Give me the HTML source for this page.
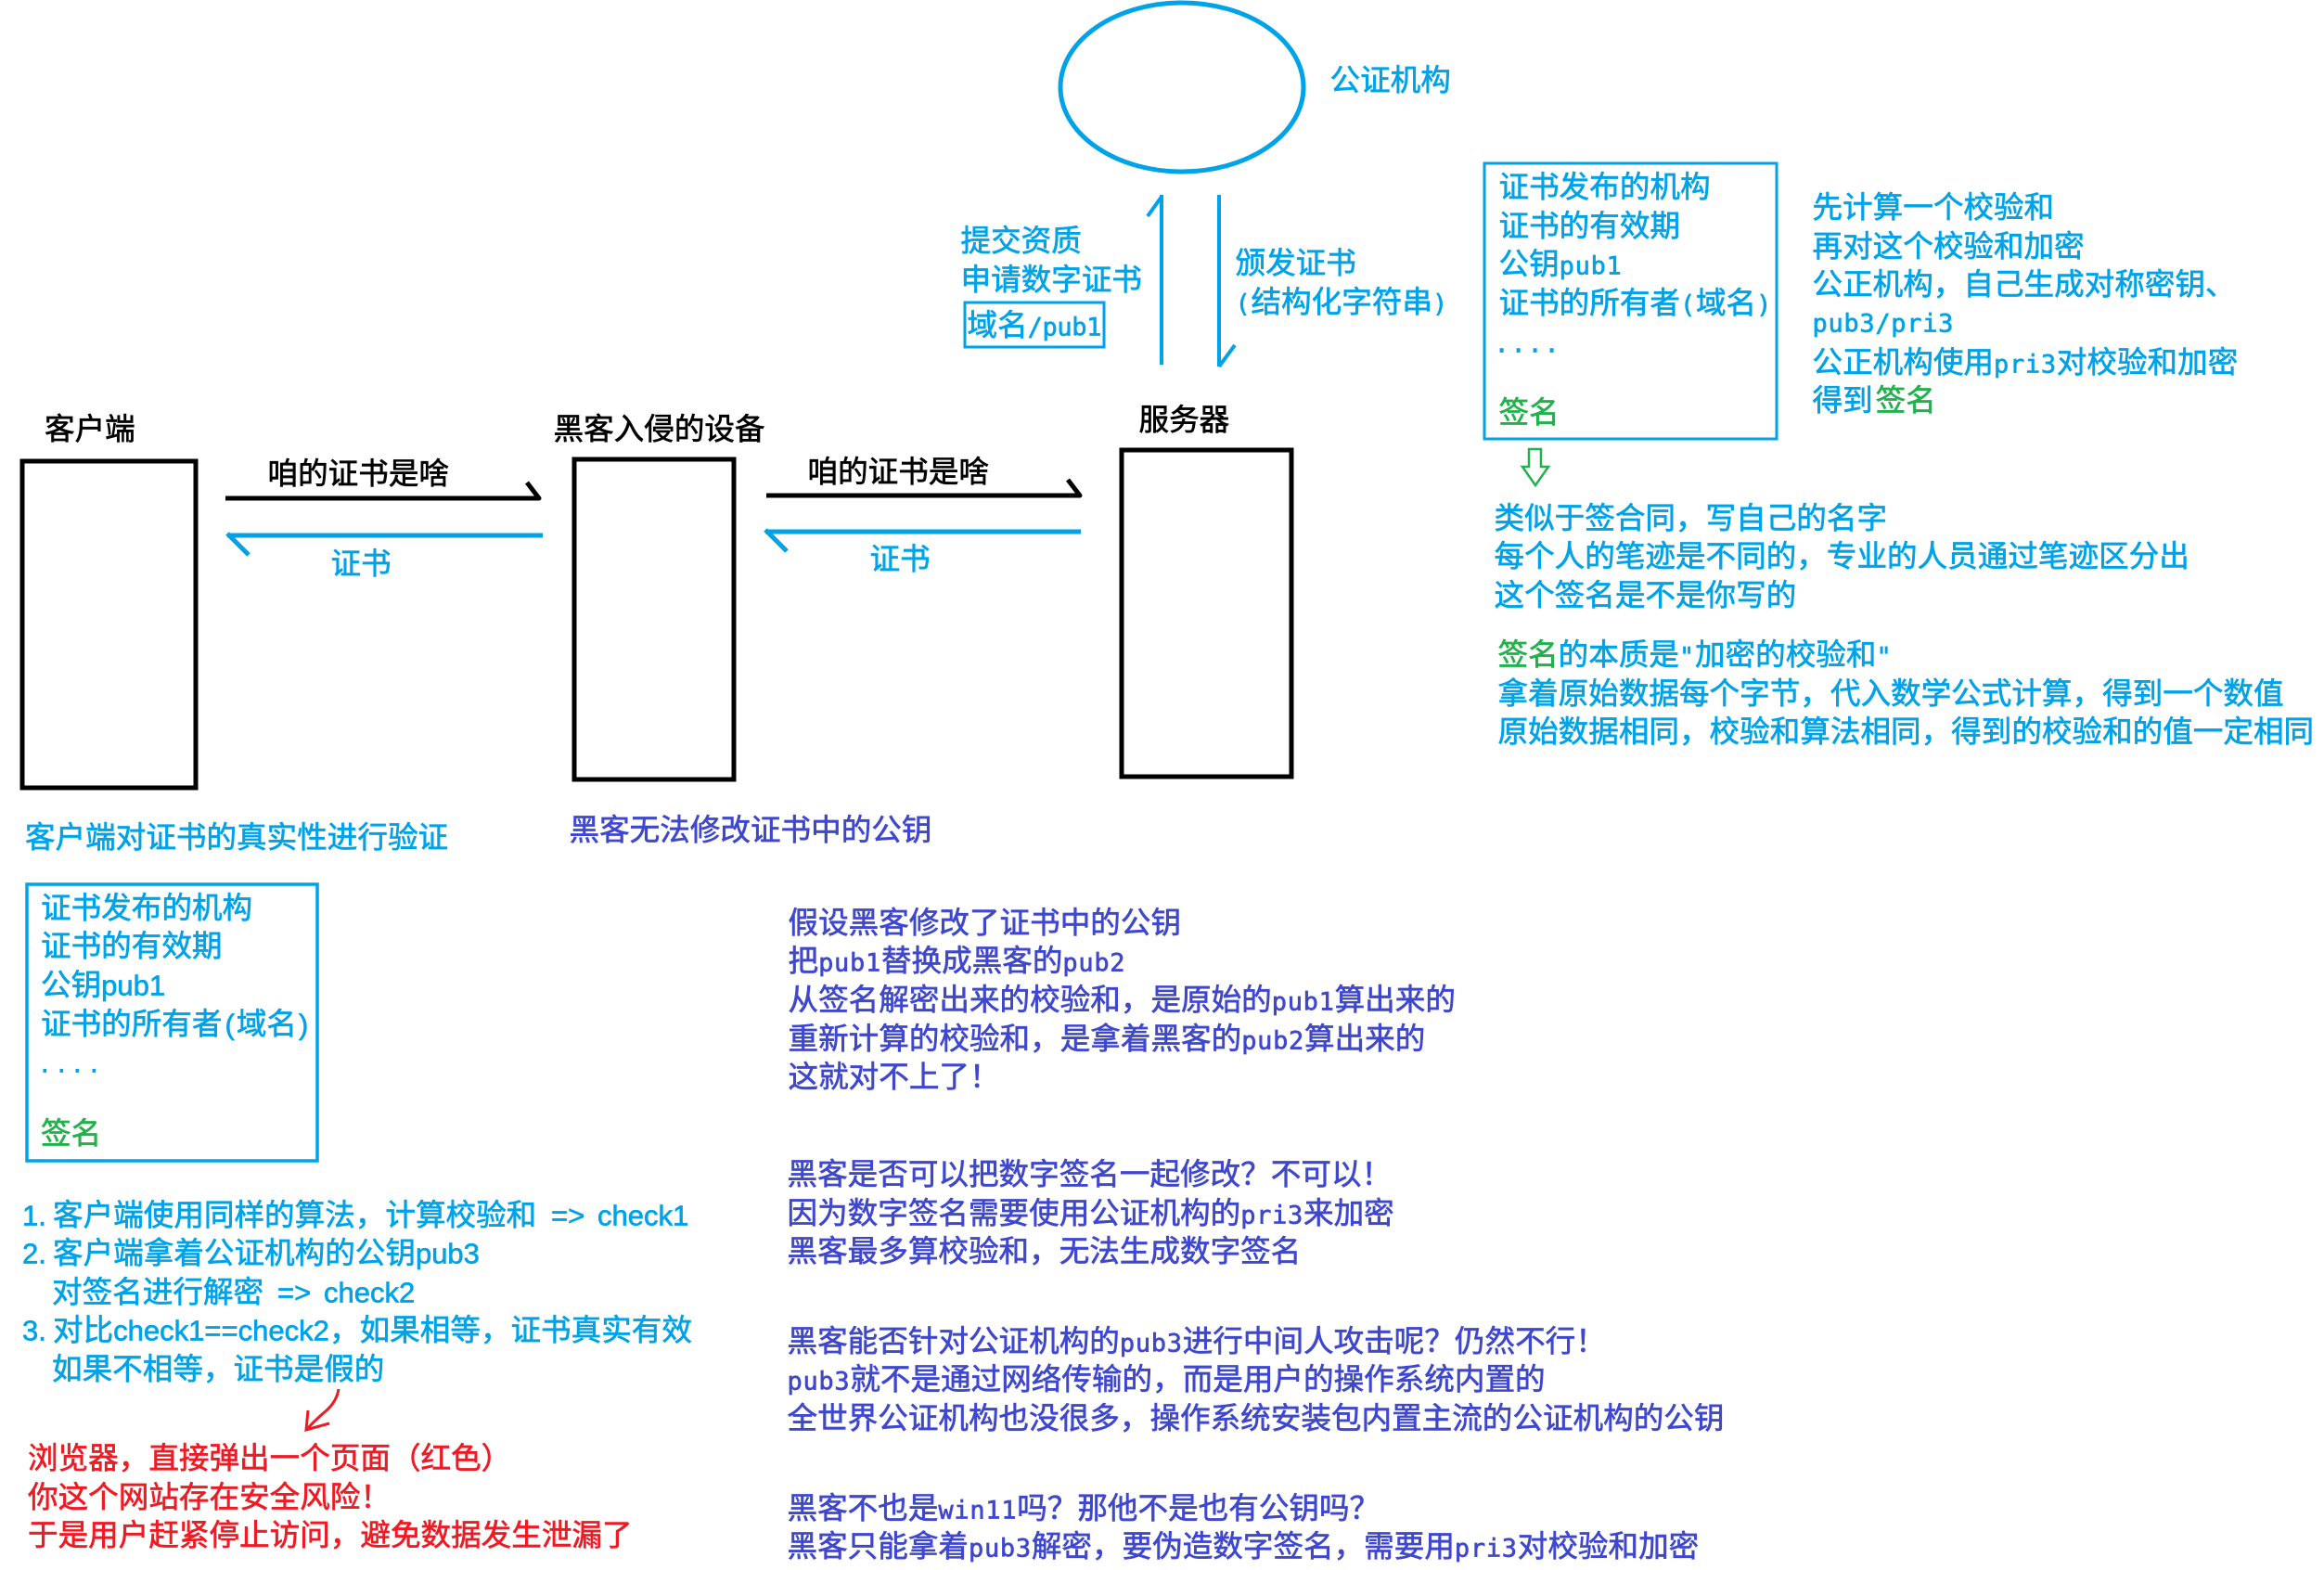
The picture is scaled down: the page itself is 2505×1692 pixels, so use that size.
<!DOCTYPE html>
<html><head><meta charset="utf-8">
<style>
html,body{margin:0;padding:0;background:#fff;width:2505px;height:1692px;overflow:hidden}
svg{display:block}
text{font-family:"Noto Sans CJK SC","WenQuanYi Zen Hei",sans-serif;font-size:32.6px;white-space:pre;stroke-width:.65;paint-order:stroke}
.b{fill:#00a2e8;stroke:#00a2e8}
.g{fill:#22b14c;stroke:#22b14c}
.r{fill:#ed1c24;stroke:#ed1c24}
.i{fill:#3f48cc;stroke:#3f48cc}
.k{fill:#000;stroke:#000}
.m{font-family:"DejaVu Sans Mono","Liberation Mono",monospace;font-size:27px;letter-spacing:.7px}
.s{font-family:"Liberation Sans",sans-serif;font-size:31px}
</style></head><body>
<svg width="2505" height="1692" viewBox="0 0 2505 1692" xmlns="http://www.w3.org/2000/svg">
<rect width="2505" height="1692" fill="#fff"/>
<g fill="none" stroke="#00a2e8">
<ellipse cx="1274" cy="94" rx="131" ry="91" stroke-width="5"/>
<path d="M1252 210V393M1252 212L1237 233M1314 210V395M1314 395L1331 372" stroke-width="4"/>
<rect x="1040" y="326" width="150" height="48" stroke-width="3"/>
<rect x="1600" y="176" width="315" height="297" stroke-width="3"/>
<rect x="29" y="953" width="313" height="298" stroke-width="3.5"/>
<path d="M245 577H585M245 575L268 598M825 573H1165M825 571L848 594" stroke-width="5"/>
</g>
<g fill="none" stroke="#000">
<rect x="24" y="497" width="187" height="352" stroke-width="5"/>
<rect x="619" y="495" width="172" height="345" stroke-width="5"/>
<rect x="1209" y="485" width="183" height="352" stroke-width="5"/>
<path d="M243 537H581L568 520M826 534H1164L1151 517" stroke-width="5" stroke-linejoin="round"/>
</g>
<path d="M1648 484H1661V503H1669L1655 523L1641 503H1648Z" fill="none" stroke="#22b14c" stroke-width="2.5"/>
<path d="M365 1497Q363 1510 352 1520Q340 1530 330 1541M332 1520L330 1541L355 1534" fill="none" stroke="#ed1c24" stroke-width="3"/>

<g transform="translate(-1.5,-.5)">
<text class="b" x="1435" y="98">公证机构</text>
<text class="b" x="1037" y="271">提交资质</text>
<text class="b" x="1037" y="313">申请数字证书</text>
<text class="b" x="1044" y="362">域名<tspan class="m" style="letter-spacing:-.4px">/pub1</tspan></text>
<text class="b" x="1333" y="295">颁发证书</text>
<text class="b" x="1333" y="337"><tspan class="m">(</tspan>结构化字符串<tspan class="m">)</tspan></text>

<text class="b" x="1617" y="213">证书发布的机构</text>
<text class="b" x="1617" y="255">证书的有效期</text>
<text class="b" x="1617" y="296">公钥<tspan class="m">pub1</tspan></text>
<text class="b" x="1617" y="338">证书的所有者<tspan class="m">(</tspan>域名<tspan class="m">)</tspan></text>
<text class="b m" x="1612 1630 1648 1666" y="380">....</text>
<text class="g" x="1617" y="456">签名</text>

<text class="b" x="1955" y="235">先计算一个校验和</text>
<text class="b" x="1955" y="277">再对这个校验和加密</text>
<text class="b" x="1955" y="318">公正机构，自己生成对称密钥、</text>
<text class="b m" x="1955" y="358">pub3/pri3</text>
<text class="b" x="1955" y="402">公正机构使用<tspan class="m">pri3</tspan>对校验和加密</text>
<text class="b" x="1955" y="443">得到<tspan class="g" dx="3">签名</tspan></text>

<text class="b" x="1612" y="570">类似于签合同，写自己的名字</text>
<text class="b" x="1612" y="611">每个人的笔迹是不同的，专业的人员通过笔迹区分出</text>
<text class="b" x="1612" y="653">这个签名是不是你写的</text>
<text class="b" x="1616" y="717"><tspan class="g">签名</tspan>的本质是<tspan class="m">"</tspan>加密的校验和<tspan class="m">"</tspan></text>
<text class="b" x="1616" y="759">拿着原始数据每个字节，代入数学公式计算，得到一个数值</text>
<text class="b" x="1616" y="800">原始数据相同，校验和算法相同，得到的校验和的值一定相同</text>

<text class="k" x="598" y="474">黑客入侵的设备</text>
<text class="k" x="1229" y="464">服务器</text>
<text class="k" x="290" y="522">咱的证书是啥</text>
<text class="k" x="872" y="520">咱的证书是啥</text>
<text class="b" x="358" y="619">证书</text>
<text class="b" x="939" y="614">证书</text>
<text class="i" x="615" y="906">黑客无法修改证书中的公钥</text>

<text class="i" x="851" y="1006">假设黑客修改了证书中的公钥</text>
<text class="i" x="851" y="1047">把<tspan class="m">pub1</tspan>替换成黑客的<tspan class="m">pub2</tspan></text>
<text class="i" x="851" y="1089">从签名解密出来的校验和，是原始的<tspan class="m">pub1</tspan>算出来的</text>
<text class="i" x="851" y="1131">重新计算的校验和，是拿着黑客的<tspan class="m">pub2</tspan>算出来的</text>
<text class="i" x="851" y="1172">这就对不上了！</text>

<text class="i" x="850" y="1277">黑客是否可以把数字签名一起修改？不可以！</text>
<text class="i" x="850" y="1319">因为数字签名需要使用公证机构的<tspan class="m">pri3</tspan>来加密</text>
<text class="i" x="850" y="1360">黑客最多算校验和，无法生成数字签名</text>

<text class="i" x="850" y="1457">黑客能否针对公证机构的<tspan class="m">pub3</tspan>进行中间人攻击呢？仍然不行！</text>
<text class="i" x="850" y="1498"><tspan class="m">pub3</tspan>就不是通过网络传输的，而是用户的操作系统内置的</text>
<text class="i" x="850" y="1540">全世界公证机构也没很多，操作系统安装包内置主流的公证机构的公钥</text>

<text class="i" x="850" y="1637">黑客不也是<tspan class="m">win11</tspan>吗？那他不是也有公钥吗？</text>
<text class="i" x="850" y="1678">黑客只能拿着<tspan class="m">pub3</tspan>解密，要伪造数字签名，需要用<tspan class="m">pri3</tspan>对校验和加密</text>
</g>

<g transform="translate(0,-1.5)">
<text class="k" x="48" y="475">客户端</text>
<text class="b" x="27" y="915">客户端对证书的真实性进行验证</text>
<text class="b" x="44" y="991">证书发布的机构</text>
<text class="b" x="44" y="1032">证书的有效期</text>
<text class="b" x="44" y="1074">公钥<tspan class="s">pub1</tspan></text>
<text class="b" x="44" y="1116">证书的所有者<tspan class="s" dx="3">(</tspan><tspan dx="2">域名</tspan><tspan class="s" dx="2">)</tspan></text>
<text class="b s" x="44 62 79 97" y="1157">....</text>
<text class="g" x="44" y="1234">签名</text>

<text class="b" x="24" y="1322"><tspan class="s">1.</tspan><tspan x="57">客户端使用同样的算法，计算校验和</tspan><tspan class="s" x="594">=&gt;</tspan><tspan class="s" x="644">check1</tspan></text>
<text class="b" x="24" y="1363"><tspan class="s">2.</tspan><tspan x="57">客户端拿着公证机构的公钥</tspan><tspan class="s">pub3</tspan></text>
<text class="b" x="56" y="1405">对签名进行解密<tspan class="s" x="299">=&gt;</tspan><tspan class="s" x="349">check2</tspan></text>
<text class="b" x="24" y="1446"><tspan class="s">3.</tspan><tspan x="57">对比</tspan><tspan class="s">check1==check2</tspan><tspan x="355">，如果相等，证书真实有效</tspan></text>
<text class="b" x="56" y="1488">如果不相等，证书是假的</text>

<text class="r" x="30" y="1584">浏览器，直接弹出一个页面（红色）</text>
<text class="r" x="30" y="1626">你这个网站存在安全风险！</text>
<text class="r" x="30" y="1667">于是用户赶紧停止访问，避免数据发生泄漏了</text>
</g>
</svg>
</body></html>
